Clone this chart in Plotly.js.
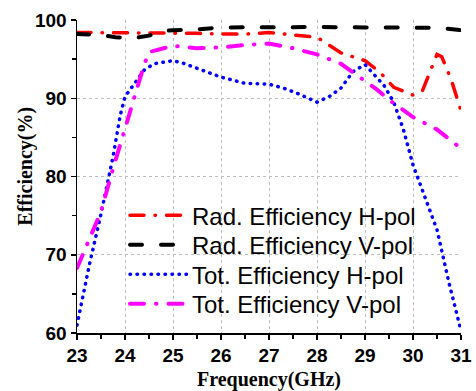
<!DOCTYPE html>
<html>
<head>
<meta charset="utf-8">
<script src="https://cdn.plot.ly/plotly-3.0.1.min.js"></script>
<style>
  html, body { margin: 0; padding: 0; background: #fff; }
  #chart { width: 476px; height: 391px; }
  /* rounded dash ends for the curves and their legend samples */
  .scatterlayer .js-line, .legendlines path { stroke-linecap: round; }
</style>
</head>
<body>
<div id="chart"></div>
<script>
// Radiation efficiency, H polarisation (%)
const radHFreq = [23, 23.5, 24, 24.5, 25, 25.5, 26, 26.5, 27, 27.5, 28, 28.5, 29, 29.3, 29.6, 30, 30.2, 30.5, 30.6, 30.8, 31];
const radHEff  = [98.4, 98.4, 98.4, 98.4, 98.4, 98.3, 98.2, 98.2, 98.4, 98.1, 97.8, 95.8, 94.8, 93.4, 91.4, 90.4, 91.0, 95.6, 95.3, 92.3, 88.4];

// Radiation efficiency, V polarisation (%)
const radVFreq = [23, 23.5, 23.8, 24.2, 24.5, 24.8, 25, 25.5, 26, 27, 28, 29, 30, 30.5, 31];
const radVEff  = [98.2, 98.1, 97.8, 97.7, 98.0, 98.6, 98.7, 98.8, 99.05, 99.1, 99.1, 99.05, 99.0, 99.0, 98.7];

// Total efficiency, H polarisation (%)
const totHFreq = [23, 23.25, 23.5, 23.75, 23.9, 24, 24.2, 24.4, 24.6, 25, 25.2, 25.5, 25.75, 26, 26.5, 27, 27.3, 27.6, 28, 28.25, 28.5, 28.75, 29, 29.2, 29.4, 29.6, 29.8, 30, 30.25, 30.5, 30.75, 31];
const totHEff  = [61.0, 68.5, 75.2, 82.5, 87.8, 90.2, 91.9, 93.6, 94.4, 94.8, 94.5, 93.8, 93.3, 92.7, 91.9, 91.8, 91.3, 90.6, 89.5, 90.2, 91.3, 93.4, 94.3, 93.0, 91.6, 89.5, 86.0, 81.5, 77.4, 73.2, 66.4, 60.3];

// Total efficiency, V polarisation (%)
const totVFreq = [23, 23.25, 23.5, 23.75, 24, 24.2, 24.4, 24.5, 25, 25.5, 26, 26.5, 27, 27.5, 28, 28.5, 29, 29.25, 29.5, 30, 30.5, 31];
const totVEff  = [68.3, 71.9, 75.5, 81.0, 86.2, 90.0, 94.3, 95.9, 96.7, 96.4, 96.5, 96.8, 97.0, 96.4, 95.6, 94.4, 92.3, 91.1, 89.8, 87.6, 86.0, 83.6];

const seriesNames = ['Rad. Efficiency H-pol', 'Rad. Efficiency V-pol', 'Tot. Efficiency H-pol', 'Tot. Efficiency V-pol'];
const xTicks = [23, 24, 25, 26, 27, 28, 29, 30, 31];
const yTicks = [60, 70, 80, 90, 100];

const traces = [
  { x: radHFreq, y: radHEff, name: seriesNames[0], mode: 'lines',
    line: { color: '#ff0000', width: 3.5, dash: '14px,11px,0.5px,11px' } },
  { x: radVFreq, y: radVEff, name: seriesNames[1], mode: 'lines',
    line: { color: '#000000', width: 4, dash: '12px,19px' } },
  { x: totHFreq, y: totHEff, name: seriesNames[2], mode: 'lines',
    line: { color: '#0000ff', width: 3.5, dash: '0.5px,6.5px' } },
  { x: totVFreq, y: totVEff, name: seriesNames[3], mode: 'lines',
    line: { color: '#ff00ff', width: 4, dash: '14px,12px,0.5px,12px' } }
];

const tickFont = { family: 'Liberation Sans, Arial, sans-serif', size: 19, color: '#000', weight: 'bold' };

const layout = {
  width: 476, height: 391,
  margin: { l: 77, r: 15, t: 20, b: 58 },
  paper_bgcolor: '#fff', plot_bgcolor: '#fff',
  showlegend: true,
  legend: {
    x: 0.125, xanchor: 'left', y: 0.447, yanchor: 'top',
    bgcolor: 'rgba(0,0,0,0)', borderwidth: 0, itemwidth: 57,
    font: { family: 'Liberation Sans, Arial, sans-serif', size: 24, color: '#000' }
  },
  xaxis: {
    range: [23, 31], tickvals: xTicks, ticktext: xTicks.map(String),
    ticks: 'outside', ticklen: 5, tickwidth: 1.5, tickcolor: '#000',
    minor: { dtick: 0.5, tick0: 23, ticks: 'outside', ticklen: 4, tickwidth: 1.5, tickcolor: '#000', showgrid: false },
    showline: true, linecolor: '#000', linewidth: 1.5,
    showgrid: true, gridcolor: '#bdbdbd', griddash: 'dot', gridwidth: 1,
    zeroline: false, tickfont: tickFont,
    title: { text: 'Frequency(GHz)', standoff: 8,
      font: { family: 'Liberation Serif, Times New Roman, serif', size: 20, color: '#000', weight: 'bold' } }
  },
  yaxis: {
    range: [60, 100], tickvals: yTicks, ticktext: yTicks.map(String),
    ticks: 'outside', ticklen: 5, tickwidth: 1.5, tickcolor: '#000',
    minor: { dtick: 5, tick0: 60, ticks: 'outside', ticklen: 4, tickwidth: 1.5, tickcolor: '#000', showgrid: false },
    showline: true, linecolor: '#000', linewidth: 1.5,
    showgrid: true, gridcolor: '#bdbdbd', griddash: 'dot', gridwidth: 1,
    zeroline: false, tickfont: tickFont
  },
  annotations: [{
    text: 'Efficiency(%)', textangle: -90, showarrow: false,
    xref: 'paper', yref: 'paper', x: -0.135, y: 0.5, xanchor: 'center', yanchor: 'middle',
    yshift: 10,
    font: { family: 'Liberation Serif, Times New Roman, serif', size: 20, color: '#000', weight: 'bold' }
  }]
};

// tighter row pitch for the legend entries than Plotly's default for this font size
const legendRowPitch = 29.5;

Plotly.newPlot('chart', traces, layout, { displayModeBar: false, staticPlot: true }).then(function (gd) {
  const rows = gd.querySelectorAll('.legend .traces');
  if (!rows.length) return;
  const parse = function (t) {
    const m = /translate\(\s*([-\d.]+)[ ,]+([-\d.]+)\s*\)/.exec(t || '');
    return m ? [parseFloat(m[1]), parseFloat(m[2])] : [0, 0];
  };
  const first = parse(rows[0].getAttribute('transform'));
  rows.forEach(function (g, i) {
    const p = parse(g.getAttribute('transform'));
    g.setAttribute('transform', 'translate(' + p[0] + ',' + (first[1] + i * legendRowPitch) + ')');
  });
});
</script>
</body>
</html>
